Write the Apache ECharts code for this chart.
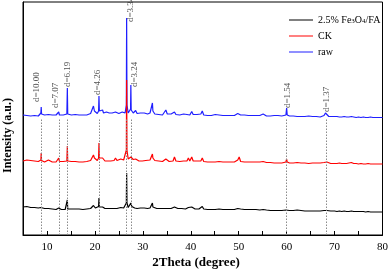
<!DOCTYPE html>
<html><head><meta charset="utf-8">
<script src="https://cdn.jsdelivr.net/npm/echarts@6/dist/echarts.min.js"></script>
<style>html,body{margin:0;padding:0;background:#fff}#c{width:391px;height:271px}</style>
</head><body><div id="c"></div>
<script>
const seriesNames = ['2.5% Fe3O4/FA', 'CK', 'raw'];
const xTicks = [10, 20, 30, 40, 50, 60, 70, 80];
const rawData = [[5,120],[5.4,121],[5.8,119.5],[6.2,120.5],[6.6,119],[7,120.5],[7.4,119.5],[7.8,120],[8.2,119],[8.5,120],[8.73,122],[8.8,128],[8.87,121],[9.1,119.5],[9.5,120],[9.9,119],[10.3,120.5],[10.7,119],[11.1,120],[11.5,119.5],[11.9,120],[12.3,121],[12.45,123],[12.6,120],[13,119.5],[13.4,120],[13.8,119.5],[14.15,121],[14.25,147],[14.33,121],[14.7,119.5],[15.1,120],[15.5,119],[15.9,120.5],[16.3,119.5],[16.7,120],[17.1,120.5],[17.5,120],[17.9,121],[18.3,120],[18.7,121],[19.1,121.5],[19.4,123],[19.7,129],[19.9,124],[20.1,122],[20.5,121.5],[20.77,124],[20.85,139],[20.93,124],[21.2,122],[21.6,125],[21.8,122],[22.1,121],[22.4,123],[22.7,121],[23,122],[23.3,120.5],[23.6,122],[24,121],[24.3,123],[24.6,121],[25,121.5],[25.4,122],[25.7,123],[26,121],[26.3,122],[26.56,130],[26.62,217],[26.69,130],[26.95,122],[27.3,124],[27.44,126],[27.5,150],[27.57,125],[28,122],[28.3,123],[28.5,124.5],[28.8,121.5],[29.2,121],[29.5,122],[29.9,121],[30.3,122],[30.6,121.5],[31,121],[31.5,122],[31.88,124],[32,132],[32.1,124],[32.5,121],[32.9,121.5],[33.3,120.5],[33.7,121],[34.1,120],[34.5,121.5],[34.8,125],[35.1,121],[35.5,120.5],[35.9,121],[36.3,120],[36.6,123],[36.9,120.5],[37.3,121],[37.7,120],[38.1,120.5],[38.5,121],[38.9,120],[39.2,120.5],[39.5,122.5],[39.8,120],[40.2,123.5],[40.5,120.5],[40.9,120],[41.3,120.5],[41.7,120],[42.1,121],[42.4,124],[42.7,120],[43.1,120.5],[43.5,119.5],[43.9,120],[44.3,119.5],[44.7,120],[45.1,120.5],[45.5,121],[45.9,120],[46.3,120.5],[46.7,119.5],[47.1,120],[47.5,119.5],[47.9,120.5],[48.3,119.5],[48.7,120],[49.1,119.5],[49.5,120],[49.8,121.5],[50.1,123],[50.4,120],[50.8,119.5],[51.2,120],[51.6,119],[52,119.5],[52.4,119],[52.8,119.5],[53.2,119],[53.6,119.5],[54,119],[54.4,119.5],[54.8,120],[55.1,121],[55.4,119.5],[55.8,119],[56.2,119.5],[56.6,119],[57,119],[57.4,119.5],[57.8,119],[58.2,119.5],[58.6,119],[59,119],[59.4,119.5],[59.85,120],[60,127],[60.12,120],[60.6,119],[61,119.5],[61.4,119],[61.8,119],[62.2,118.5],[62.6,119],[63,118.5],[63.4,119],[63.8,118.5],[64.2,118.5],[64.6,119],[65,118.5],[65.4,118.5],[65.8,118],[66.2,118.5],[66.6,118.5],[67,118],[67.4,118.5],[67.8,119.5],[68.1,122],[68.4,120],[68.8,118.5],[69.2,118],[69.6,118.5],[70,118],[70.5,118.5],[71,118],[71.5,118],[72,118.5],[72.5,118],[73,118],[73.5,118.5],[74,118],[74.5,117.5],[75,118],[75.5,117.5],[76,118],[76.5,117.5],[77,117.5],[77.5,118],[78,117.5],[78.5,117.5],[79,117.5],[79.5,117.5],[80,117.5]];
const ckData = [[5,74],[5.4,73.5],[5.8,75],[6.2,73],[6.6,74.5],[7,73.5],[7.4,74],[7.8,73],[8.2,73.5],[8.5,74],[8.73,75],[8.8,82],[8.87,74.5],[9.1,73.5],[9.5,73],[9.9,74],[10.3,75],[10.7,73.5],[11.1,73],[11.5,73.5],[11.9,73],[12.3,74],[12.45,77],[12.6,73.5],[13,73],[13.4,73.5],[13.8,73],[14.15,74],[14.25,89],[14.33,74],[14.7,73],[15.1,73.5],[15.5,73],[15.9,73.5],[16.3,72.5],[16.7,73],[17.1,73.5],[17.5,73],[17.9,74],[18.3,73.5],[18.7,74],[19.1,74.5],[19.4,76],[19.7,80],[19.9,77],[20.1,75],[20.5,74.5],[20.77,77],[20.85,92],[20.93,77],[21.2,75],[21.6,77],[21.8,75],[22.1,74],[22.4,76],[22.7,74],[23,75],[23.3,74],[23.6,75],[24,74.5],[24.3,77],[24.6,74.5],[25,75],[25.4,76],[25.7,77],[26,75],[26.3,76],[26.56,85],[26.62,155],[26.69,85],[26.95,76],[27.3,76],[27.5,78],[27.7,77],[28,75.5],[28.3,75],[28.5,76],[28.8,74.5],[29.2,74],[29.5,75],[29.9,74],[30.3,75],[30.6,74.5],[31,74],[31.5,75],[31.88,77],[32,81],[32.1,77],[32.5,74.5],[32.9,74],[33.3,74],[33.7,74.5],[34.1,73.5],[34.5,74.5],[34.8,76],[35.1,74],[35.5,73.5],[35.9,74],[36.3,74],[36.6,78],[36.9,74],[37.3,74],[37.7,73.5],[38.1,74],[38.5,74],[38.9,73.5],[39.2,74],[39.5,77],[39.8,74],[40.2,78],[40.5,74],[40.9,73.5],[41.3,74],[41.7,73.5],[42.1,74],[42.4,77],[42.7,73.5],[43.1,74],[43.5,73],[43.9,73.5],[44.3,73],[44.7,73.5],[45.1,73],[45.5,74.5],[45.9,73.5],[46.3,74],[46.7,73],[47.1,73.5],[47.5,73],[47.9,75],[48.3,73],[48.7,73.5],[49.1,73],[49.5,73.5],[49.8,75],[50.1,78],[50.4,73.5],[50.8,73],[51.2,73],[51.6,72.5],[52,73],[52.4,72.5],[52.8,73],[53.2,72.5],[53.6,73],[54,72.5],[54.4,73],[54.8,72.5],[55.1,73.5],[55.4,72.5],[55.8,72.5],[56.2,73],[56.6,72.5],[57,72.5],[57.4,72],[57.8,72.5],[58.2,72],[58.6,72.5],[59,72],[59.4,72.5],[59.85,73],[60,76],[60.12,73],[60.6,72],[61,72.5],[61.4,72],[61.8,72],[62.2,72.5],[62.6,72],[63,72],[63.4,72.5],[63.8,72],[64.2,72],[64.6,71.5],[65,72],[65.4,72],[65.8,71.5],[66.2,72],[66.6,71.5],[67,72],[67.4,72],[67.8,72.5],[68.1,74],[68.4,73],[68.8,72],[69.2,71.5],[69.6,72],[70,71.5],[70.5,71.5],[71,72],[71.5,71.5],[72,71.5],[72.5,71.5],[73,72],[73.5,72.5],[74,71.5],[74.5,71.5],[75,71],[75.5,71.5],[76,71],[76.5,71],[77,71.5],[77.5,71],[78,71],[78.5,71],[79,71],[79.5,71],[80,71]];
const feData = [[5,28],[5.4,27],[5.8,28.5],[6.2,27],[6.6,27.5],[7,26.5],[7.4,27.5],[7.8,26.5],[8.2,27],[8.5,26.5],[8.73,27.5],[8.8,29.5],[8.87,27],[9.1,26],[9.5,26.5],[9.9,26],[10.3,26.5],[10.7,25.5],[11.1,26],[11.5,26],[11.9,25.5],[12.3,26],[12.45,27],[12.6,26],[13,25.5],[13.4,26],[13.8,25.5],[14.15,26],[14.25,35],[14.33,26],[14.7,25.5],[15.1,26],[15.5,25.5],[15.9,26],[16.3,25.5],[16.7,26],[17.1,26],[17.5,25.5],[17.9,26.5],[18.3,26],[18.7,26.5],[19.1,26.5],[19.4,27],[19.7,29.5],[19.9,28],[20.1,27],[20.5,27],[20.77,28.5],[20.85,37],[20.93,28],[21.2,27],[21.6,28],[21.8,27],[22.1,26.5],[22.4,27.5],[22.7,26.5],[23,27],[23.3,26.5],[23.6,27],[24,26.5],[24.3,27.5],[24.6,26.5],[25,27],[25.4,27.5],[25.7,28],[26,27],[26.3,27.5],[26.56,32],[26.62,62],[26.69,32],[26.95,27.5],[27.3,28],[27.5,32],[27.7,28.5],[28,27.5],[28.3,27],[28.5,27.5],[28.8,26.5],[29.2,26.5],[29.5,27],[29.9,26.5],[30.3,27],[30.6,26.5],[31,26.5],[31.5,27],[31.88,28],[32,32],[32.1,28],[32.5,26.5],[32.9,26.5],[33.3,26],[33.7,26.5],[34.1,26],[34.5,26.5],[34.8,28.5],[35.1,26.5],[35.5,26],[35.9,26.5],[36.3,26],[36.6,28],[36.9,26],[37.3,26.5],[37.7,26],[38.1,26.5],[38.5,26],[38.9,26],[39.2,26.5],[39.5,27.5],[39.8,26],[40.2,28],[40.5,26],[40.9,26],[41.3,26.5],[41.7,26],[42.1,26.5],[42.4,28.5],[42.7,26],[43.1,26],[43.5,25.5],[43.9,26],[44.3,25.5],[44.7,26],[45.1,25.5],[45.5,26.5],[45.9,26],[46.3,26],[46.7,25.5],[47.1,26],[47.5,25.5],[47.9,26.5],[48.3,25.5],[48.7,26],[49.1,25.5],[49.5,26],[49.8,26.5],[50.1,28],[50.4,26],[50.8,25.5],[51.2,25.5],[51.6,25],[52,25.5],[52.4,25],[52.8,25.5],[53.2,25],[53.6,25.5],[54,25],[54.4,25],[54.8,25],[55.1,25.5],[55.4,25],[55.8,25],[56.2,25],[56.6,24.5],[57,25],[57.4,24.5],[57.8,25],[58.2,24.5],[58.6,25],[59,24.5],[59.4,25],[59.85,25],[60,27],[60.12,25],[60.6,24.5],[61,25],[61.4,24.5],[61.8,24.5],[62.2,25],[62.6,24.5],[63,24.5],[63.4,24.5],[63.8,24],[64.2,24.5],[64.6,24],[65,24.5],[65.4,24],[65.8,24.5],[66.2,24],[66.6,24.5],[67,24],[67.4,24],[67.8,24.5],[68.1,25.5],[68.4,24.5],[68.8,24],[69.2,24],[69.6,24],[70,24],[70.5,23.5],[71,24],[71.5,23.5],[72,24],[72.5,23.5],[73,23.5],[73.5,24],[74,23.5],[74.5,23.5],[75,23.5],[75.5,23.5],[76,23.5],[76.5,23],[77,23.5],[77.5,23],[78,23],[78.5,23],[79,23],[79.5,23],[80,23]];
const refPositions = [8.8, 12.5, 14.3, 20.85, 26.62, 27.5, 60.0, 68.2];
const refTop = 117;
const dLabels = ['d=10.00', 'd=7.07', 'd=6.19', 'd=4.26', 'd=3.34', 'd=3.24', 'd=1.54', 'd=1.37'];
const dLabelX = [7.9, 11.9, 14.4, 20.6, 27.4, 28.3, 60.2, 68.3];
const dLabelY = [133, 127, 148, 140, 213, 148, 127, 123];

const serif = 'Liberation Serif';
const chart = echarts.init(document.getElementById('c'));
chart.setOption({
  animation: false,
  backgroundColor: '#fff',
  grid: { left: 23, right: 7, top: 2, bottom: 36, show: true, borderColor: '#000', borderWidth: 1 },
  xAxis: {
    type: 'value', min: 5, max: 80, interval: 5,
    axisLine: { show: true, lineStyle: { color: '#000', width: 1 } },
    axisTick: { show: true, inside: true, length: 4, lineStyle: { color: '#000' } },
    axisLabel: { color: '#000', fontFamily: serif, fontSize: 11, margin: 7,
      formatter: v => xTicks.indexOf(v) >= 0 ? String(v) : '' },
    splitLine: { show: false }
  },
  yAxis: {
    type: 'value', min: 0, max: 233,
    axisLine: { show: true, lineStyle: { color: '#000' } },
    axisTick: { show: false }, axisLabel: { show: false }, splitLine: { show: false }
  },
  legend: {
    data: seriesNames, orient: 'vertical', left: 284, top: 8,
    itemWidth: 24, itemHeight: 10, itemGap: 6, icon: 'path://M0,5L24,5L24,6L0,6Z',
    textStyle: { fontFamily: serif, fontSize: 10, color: '#000',
      rich: { sub: { fontFamily: serif, fontSize: 7, color: '#000', verticalAlign: 'bottom', lineHeight: 8, padding: [5, 0, 0, 0] } } },
    formatter: n => n === '2.5% Fe3O4/FA' ? '2.5% Fe{sub|3}O{sub|4}/FA' : n
  },
  graphic: [
    { type: 'text', left: 2, top: 98, rotation: Math.PI / 2, z: 10,
      style: { text: 'Intensity (a.u.)', font: 'bold 12px "Liberation Serif"', fill: '#000' } },
    { type: 'text', x: 196, y: 263, z: 10,
      style: { text: '2Theta (degree)', font: 'bold 13px "Liberation Serif"', fill: '#000', align: 'center', verticalAlign: 'middle' } }
  ],
  series: [
    { name: 'refs', type: 'line', data: [], silent: true, z: 1,
      markLine: { silent: true, symbol: ['none', 'none'], label: { show: false },
        lineStyle: { color: '#8a8a8a', type: [1.5, 1.5], width: 1 },
        data: refPositions.map(x => [{ coord: [x, 0] }, { coord: [x, refTop] }]) } },
    { name: 'raw', type: 'line', data: rawData, symbol: 'none', z: 2, color: '#1f1fff', lineStyle: { width: 1.2 } },
    { name: 'CK', type: 'line', data: ckData, symbol: 'none', z: 3, color: '#ff0000', lineStyle: { width: 1.2 } },
    { name: '2.5% Fe3O4/FA', type: 'line', data: feData, symbol: 'none', z: 4, color: '#000000', lineStyle: { width: 1.2 } },
    { name: 'labels', type: 'scatter', symbolSize: 0, z: 5, silent: true,
      data: dLabels.map((t, i) => ({ name: t, value: [dLabelX[i], dLabelY[i]] })),
      label: { show: true, formatter: '{b}', position: [0, 0], rotate: 90, align: 'left', verticalAlign: 'middle',
        fontFamily: serif, fontSize: 9, color: '#222' } }
  ]
});
</script></body></html>
